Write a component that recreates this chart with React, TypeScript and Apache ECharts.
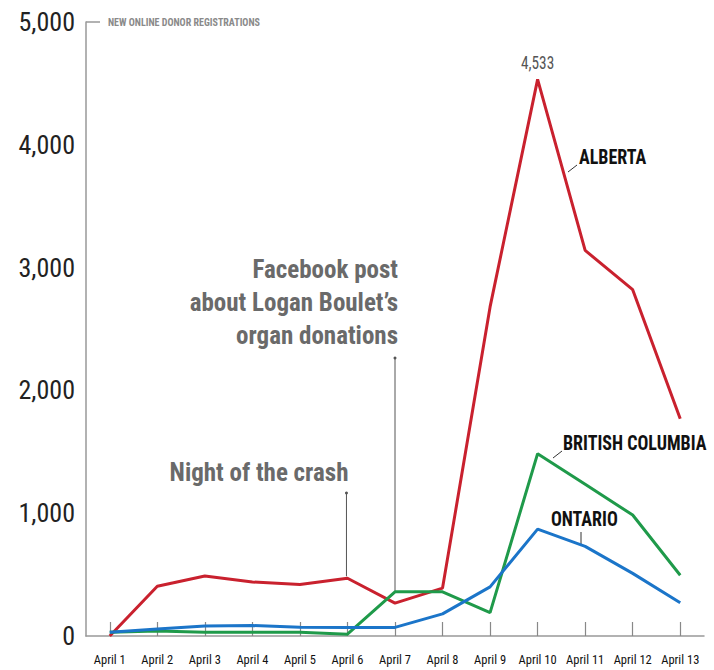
import React, { useEffect, useRef } from "react";
import * as echarts from "echarts";

const categories = ["April 1", "April 2", "April 3", "April 4", "April 5", "April 6", "April 7", "April 8", "April 9", "April 10", "April 11", "April 12", "April 13"];
const alberta = [0, 405, 488, 440, 420, 470, 268, 390, 2680, 4533, 3140, 2820, 1770];
const britishColumbia = [30, 40, 30, 30, 30, 15, 360, 360, 190, 1485, 1235, 985, 495];
const ontario = [30, 57, 82, 85, 72, 70, 70, 180, 400, 870, 730, 510, 270];
const yTicks = { min: 0, max: 5000, interval: 1000 };

const FONT = "'Roboto Condensed', 'DejaVu Sans Condensed', 'Liberation Sans Narrow', 'Roboto', sans-serif";
const RED = "#c9212e";
const GREEN = "#1f9a4a";
const BLUE = "#1b75c9";

export default function App() {
  const ref = useRef<HTMLDivElement>(null);
  useEffect(() => {
    if (!ref.current) return;
    const chart = echarts.init(ref.current, null, { renderer: "svg" });
    const peakIdx = alberta.indexOf(Math.max(...alberta));
    const option: any = {
      animation: false,
      backgroundColor: "#ffffff",
      grid: { left: 86, right: 10, top: 22, bottom: 34 },
      xAxis: {
        type: "category",
        data: categories,
        boundaryGap: true,
        axisLine: { show: true, lineStyle: { color: "#999", width: 1.5 } },
        axisTick: { show: true, alignWithLabel: true, inside: true, length: 14, lineStyle: { color: "#888", width: 1.2 } },
        axisLabel: { color: "#111", fontFamily: FONT, fontSize: 12.5, margin: 17, interval: 0 },
        splitLine: { show: false },
      },
      yAxis: {
        type: "value",
        min: yTicks.min,
        max: yTicks.max,
        interval: yTicks.interval,
        axisLine: { show: true, lineStyle: { color: "#999", width: 1.5 } },
        axisTick: { show: false },
        splitLine: { show: false },
        axisLabel: {
          color: "#222",
          fontFamily: FONT,
          fontSize: 26,
          margin: 11,
          formatter: (v: number) => v.toLocaleString("en-US"),
        },
      },
      series: [
        {
          name: "Alberta",
          type: "line",
          data: alberta,
          symbol: "none",
          lineStyle: { color: RED, width: 3 },
          itemStyle: { color: RED },
          z: 3,
        },
        {
          name: "British Columbia",
          type: "line",
          data: britishColumbia,
          symbol: "none",
          lineStyle: { color: GREEN, width: 3 },
          itemStyle: { color: GREEN },
          z: 4,
        },
        {
          name: "Ontario",
          type: "line",
          data: ontario,
          symbol: "none",
          lineStyle: { color: BLUE, width: 3 },
          itemStyle: { color: BLUE },
          z: 5,
        },
      ],
    };
    chart.setOption(option);

    const px = (i: number, v: number) => chart.convertToPixel({ gridIndex: 0 }, [i, v]) as number[];
    const top = px(0, yTicks.max);
    const peak = px(peakIdx, alberta[peakIdx]);
    const crash = px(5, alberta[5]);
    const fb = px(6, britishColumbia[6]);
    const grey = "#6a6a6a";
    const bold = (s: number) => `bold ${s}px ${FONT}`;
    const ann = (x: number, y: number, text: string) => ({
      type: "text", x, y,
      style: { text, fill: grey, font: bold(25), textAlign: "right", textVerticalAlign: "middle" },
    });
    const lab = (x: number, y: number, text: string) => ({
      type: "text", x, y, scaleX: 0.9,
      style: { text, fill: "#111", font: bold(20), textVerticalAlign: "middle" },
    });

    chart.setOption({
      graphic: [
        { type: "line", shape: { x1: 86, y1: top[1], x2: 100, y2: top[1] }, style: { stroke: "#999", lineWidth: 1.5 } },
        { type: "text", x: 108, y: top[1], style: { text: "NEW ONLINE DONOR REGISTRATIONS", fill: "#8a8a8a", font: bold(10), textVerticalAlign: "middle" } },
        { type: "text", x: peak[0], y: peak[1] - 16, scaleX: 0.85, style: { text: alberta[peakIdx].toLocaleString("en-US"), fill: "#555", font: `${18}px ${FONT}`, textAlign: "center", textVerticalAlign: "middle" } },
        // Night of the crash
        { type: "line", shape: { x1: crash[0] - 1, y1: crash[1] - 2, x2: crash[0] - 1, y2: 493 }, style: { stroke: "#555", lineWidth: 1 } },
        { type: "circle", shape: { cx: crash[0] - 1, cy: 493, r: 1.5 }, style: { fill: "#555" } },
        ann(crash[0] + 1, 472, "Night of the crash"),
        // Facebook post
        { type: "line", shape: { x1: fb[0], y1: fb[1], x2: fb[0], y2: 358 }, style: { stroke: "#555", lineWidth: 1 } },
        { type: "circle", shape: { cx: fb[0], cy: 358, r: 1.5 }, style: { fill: "#555" } },
        ann(fb[0] + 3, 269, "Facebook post"),
        ann(fb[0] + 3, 302, "about Logan Boulet\u2019s"),
        ann(fb[0] + 3, 335, "organ donations"),
        // Series labels
        { type: "line", shape: { x1: 568, y1: 172, x2: 577, y2: 165 }, style: { stroke: "#333", lineWidth: 1 } },
        lab(579, 157, "ALBERTA"),
        { type: "line", shape: { x1: 553, y1: 458, x2: 562, y2: 451 }, style: { stroke: "#333", lineWidth: 1 } },
        lab(563, 443, "BRITISH COLUMBIA"),
        { type: "line", shape: { x1: 581, y1: 532, x2: 581, y2: 545 }, style: { stroke: "#333", lineWidth: 1 } },
        lab(551, 519, "ONTARIO"),
      ],
    });

    return () => chart.dispose();
  }, []);
  return <div ref={ref} style={{ position: "fixed", left: 0, top: 0, width: 714, height: 670 }} />;
}
